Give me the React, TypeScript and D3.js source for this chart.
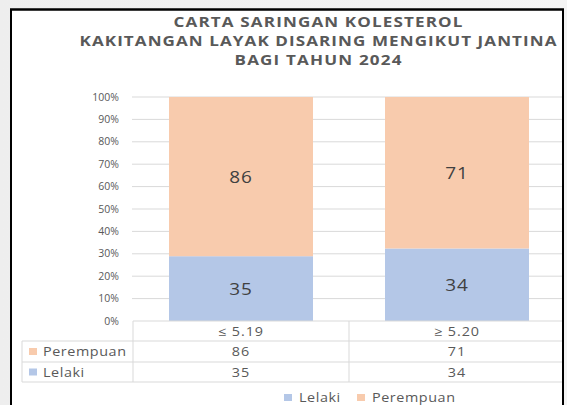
import React from "react";
import * as d3 from "d3";

const categories = ["≤ 5.19", "≥ 5.20"];
const seriesNames = ["Lelaki", "Perempuan"];
const lelaki = [35, 34];
const perempuan = [86, 71];
const yTicks = [0, 0.1, 0.2, 0.3, 0.4, 0.5, 0.6, 0.7, 0.8, 0.9, 1.0];
const titleLines = [
  "CARTA SARINGAN KOLESTEROL",
  "KAKITANGAN LAYAK DISARING MENGIKUT JANTINA",
  "BAGI TAHUN 2024",
];

const colors: Record<string, string> = { Lelaki: "#B4C7E7", Perempuan: "#F8CBAD" };
const FONT = "'Open Sans', 'Noto Sans', sans-serif";
const TXT = "#595959";
const GRID = "#d9d9d9";

function T(props: any) {
  const { x, y, sx = 1, children, ...rest } = props;
  return (
    <text transform={`translate(${x},${y}) scale(${sx},1)`} {...rest}>
      {children}
    </text>
  );
}

export default function App() {
  const W = 567, H = 405;
  const x = d3.scaleBand<string>().domain(categories).range([133, 565]).paddingInner(1 / 3).paddingOuter(1 / 6);
  const y = d3.scaleLinear().domain([0, 1]).range([321, 97]);
  const pctFmt = d3.format(".0%");
  const data = categories.map((c, i) => ({ cat: c, Lelaki: lelaki[i], Perempuan: perempuan[i] }));
  const stack = d3.stack<any>().keys(seriesNames).offset(d3.stackOffsetExpand)(data);

  const titleWidths = [289, 477, 167];
  const tableRows = [
    { name: "Perempuan", vals: perempuan, y0: 341, y1: 362 },
    { name: "Lelaki", vals: lelaki, y0: 362, y1: 382 },
  ];
  const step = x.step();
  const colBounds = [133, 133 + step, 133 + 2 * step];
  const cx = (i: number) => (x(categories[i]) as number) + x.bandwidth() / 2;
  const TS = 1.22;
  const LS = 1.15;

  return (
    <svg width={W} height={H} style={{ position: "fixed", left: 0, top: 0 }} fontFamily={FONT}>
      <defs>
        <linearGradient id="bg" x1="0" x2="1" y1="0" y2="0">
          <stop offset="0" stopColor="#eeeeee" />
          <stop offset="1" stopColor="#f4f4f4" />
        </linearGradient>
        <clipPath id="frame">
          <rect x={12} y={10} width={550} height={400} />
        </clipPath>
      </defs>
      <rect x={0} y={0} width={W} height={H} fill="url(#bg)" />
      <rect x={11} y={9.5} width={552} height={410} fill="#ffffff" stroke="#000" strokeWidth={2} />
      <g clipPath="url(#frame)">
        {titleLines.map((t, i) => (
          <T key={t} x={318} y={27 + i * 19} sx={TS} textAnchor="middle" fontSize={14} fontWeight="bold" fill={TXT}
            textLength={titleWidths[i] / TS} lengthAdjust="spacing">
            {t}
          </T>
        ))}
        {yTicks.slice(1).map((t) => (
          <line key={t} x1={132} x2={565} y1={y(t)} y2={y(t)} stroke={GRID} strokeWidth={1} />
        ))}
        {yTicks.map((t) => (
          <T key={"l" + t} x={119} y={y(t) + 3.5} sx={1.05} textAnchor="end" fontSize={10} fill={TXT}>
            {pctFmt(t)}
          </T>
        ))}
        {stack.map((s) => (
          <g key={s.key} fill={colors[s.key]}>
            {s.map((d, i) => (
              <rect key={i} x={x(categories[i])} width={x.bandwidth()} y={y(d[1])} height={y(d[0]) - y(d[1])} />
            ))}
          </g>
        ))}
        {stack.map((s) =>
          s.map((d, i) => (
            <T key={s.key + i} x={cx(i)} y={(y(d[0]) + y(d[1])) / 2 + 6} sx={LS}
              textAnchor="middle" fontSize={16.5} fill="#404040" letterSpacing={0.8}>
              {(data[i] as any)[s.key]}
            </T>
          ))
        )}
        <line x1={133} x2={565} y1={321} y2={321} stroke={GRID} />
        <line x1={22} x2={565} y1={341} y2={341} stroke={GRID} />
        <line x1={22} x2={565} y1={362} y2={362} stroke={GRID} />
        <line x1={22} x2={565} y1={382} y2={382} stroke={GRID} />
        <line x1={22} x2={22} y1={341} y2={382} stroke={GRID} />
        {colBounds.map((b) => (
          <line key={b} x1={b} x2={b} y1={321} y2={382} stroke={GRID} />
        ))}
        {categories.map((c, i) => (
          <T key={c} x={cx(i)} y={336} sx={LS} textAnchor="middle" fontSize={12.5} fill={TXT} letterSpacing={0.8}>
            {c}
          </T>
        ))}
        {tableRows.map((r) => (
          <g key={r.name}>
            <rect x={29} y={(r.y0 + r.y1) / 2 - 3.5} width={8} height={7} fill={colors[r.name]} />
            <T x={43} y={(r.y0 + r.y1) / 2 + 4.5} sx={LS} fontSize={12.5} fill={TXT} letterSpacing={0.5}>
              {r.name}
            </T>
            {r.vals.map((v, i) => (
              <T key={i} x={cx(i)} y={(r.y0 + r.y1) / 2 + 4.5} sx={LS}
                textAnchor="middle" fontSize={12.5} fill={TXT} letterSpacing={0.8}>
                {v}
              </T>
            ))}
          </g>
        ))}
        {seriesNames.map((n, i) => {
          const lx = [284, 357][i];
          return (
            <g key={n}>
              <rect x={lx} y={394} width={8} height={7} fill={colors[n]} />
              <T x={lx + 15} y={402} sx={LS} fontSize={12.5} fill={TXT} letterSpacing={0.5}>
                {n}
              </T>
            </g>
          );
        })}
      </g>
      <rect x={11} y={9.5} width={552} height={410} fill="none" stroke="#000" strokeWidth={2} />
    </svg>
  );
}
